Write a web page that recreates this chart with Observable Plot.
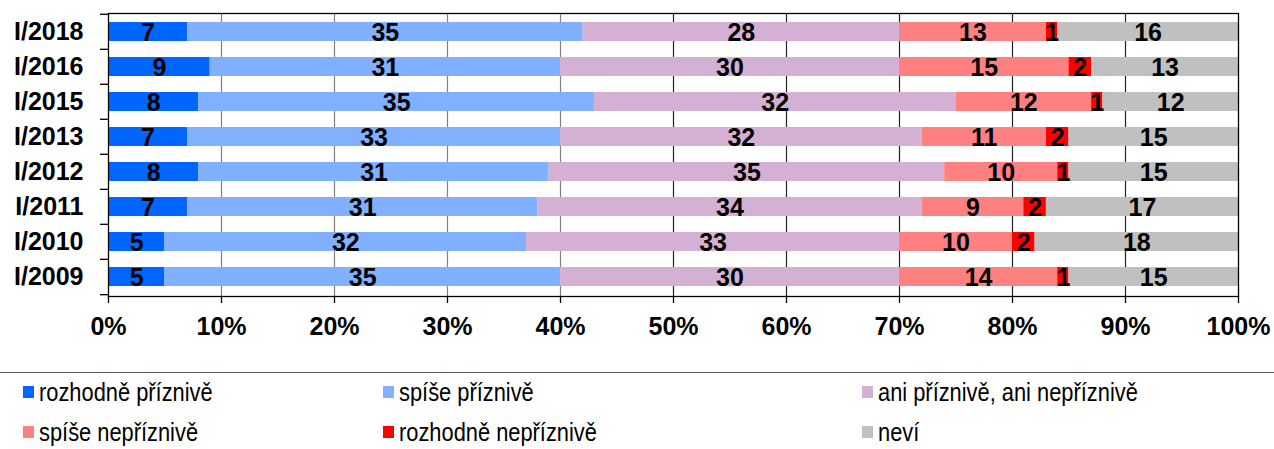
<!DOCTYPE html>
<html>
<head>
<meta charset="utf-8">
<script src="https://cdn.jsdelivr.net/npm/d3@7"></script>
<script src="https://cdn.jsdelivr.net/npm/@observablehq/plot@0.6"></script>
<style>
  html, body { margin: 0; padding: 0; background: #fff; }
  #chart svg { display: block; }
  #legend {
    position: relative; width: 1274px; height: 75px;
    margin-top: 7px; border-top: 1.5px solid #555;
    font-family: 'Liberation Sans', Arial, sans-serif; font-size: 26px; color: #000;
  }
  .item { position: absolute; display: flex; align-items: center; height: 30px; white-space: nowrap; }
  .sw { width: 11px; height: 12px; margin-right: 5px; flex: none; }
  .lbl { display: inline-block; transform: scaleX(0.84); transform-origin: left center; }
</style>
</head>
<body>
<div id="chart"></div>
<div id="legend"></div>
<script>
const years = ["I/2018", "I/2016", "I/2015", "I/2013", "I/2012", "I/2011", "I/2010", "I/2009"];
const categories = ["rozhodně příznivě", "spíše příznivě", "ani příznivě, ani nepříznivě", "spíše nepříznivě", "rozhodně nepříznivě", "neví"];
const colors = ["#0066ff", "#80b0ff", "#d4b0d4", "#ff8080", "#ff0000", "#c0c0c0"];

const rozhodnePriznive   = [7, 9, 8, 7, 8, 7, 5, 5];
const spisePriznive      = [35, 31, 35, 33, 31, 31, 32, 35];
const aniAni             = [28, 30, 32, 32, 35, 34, 33, 30];
const spiseNepriznive    = [13, 15, 12, 11, 10, 9, 10, 14];
const rozhodneNepriznive = [1, 2, 1, 2, 1, 2, 2, 1];
const nevi               = [16, 13, 12, 15, 15, 17, 18, 15];

const xTicks = [0, 10, 20, 30, 40, 50, 60, 70, 80, 90, 100];
const xTickLabels = ["0%", "10%", "20%", "30%", "40%", "50%", "60%", "70%", "80%", "90%", "100%"];

const series = [rozhodnePriznive, spisePriznive, aniAni, spiseNepriznive, rozhodneNepriznive, nevi];
const table = [];
years.forEach((y, i) => {
  categories.forEach((c, j) => table.push({year: y, category: c, value: series[j][i]}));
});

const W = 1274, H = 365, mT = 13, mB = 69, mL = 108, mR = 36;
const half = (H - mT - mB) / years.length / 2;
const font = "'Liberation Sans', Arial, sans-serif";

const chart = Plot.plot({
  width: W, height: H,
  marginTop: mT, marginBottom: mB, marginLeft: mL, marginRight: mR,
  style: {fontFamily: font, fontSize: "25px", fontWeight: "bold", color: "#000", background: "#fff"},
  x: {domain: [0, 100], axis: null, label: null},
  y: {domain: years, paddingInner: 0.45, paddingOuter: 0.225, axis: null, label: null},
  color: {domain: categories, range: colors},
  marks: [
    Plot.ruleX(xTicks.filter(d => d > 0 && d < 50), {stroke: "#808080", strokeWidth: 1.2}),
    Plot.ruleX(xTicks.filter(d => d >= 50 && d < 100), {stroke: "#222", strokeWidth: 1.2}),
    Plot.barX(table, Plot.stackX({x: "value", y: "year", fill: "category", z: "category"})),
    Plot.text(table, Plot.stackX({x: "value", y: "year", z: "category", text: d => String(d.value), fill: "#000", fontSize: 25, fontWeight: "bold", dy: 1})),
    Plot.frame({stroke: "#000", strokeWidth: 1.3}),
    Plot.axisX({ticks: xTicks, tickSize: 7, tickPadding: 14, label: null, tickFormat: d => xTickLabels[xTicks.indexOf(d)], fontSize: 25, fontWeight: "bold", strokeWidth: 1.3}),
    Plot.axisY({tickSize: 0, tickPadding: 25, label: null, fontSize: 25, fontWeight: "bold"}),
    Plot.axisY({tickSize: 8, label: null, tickFormat: () => "", dy: -half, strokeWidth: 1.3}),
    Plot.axisY({ticks: [years[years.length - 1]], label: null, tickSize: 8, tickFormat: () => "", dy: half, strokeWidth: 1.3})
  ]
});
document.getElementById("chart").appendChild(chart);

const legend = document.getElementById("legend");
const colX = [23, 383, 862];
const rowY = [4, 44];
categories.forEach((c, i) => {
  const it = document.createElement("div");
  it.className = "item";
  it.style.left = colX[i % 3] + "px";
  it.style.top = rowY[Math.floor(i / 3)] + "px";
  const sw = document.createElement("span");
  sw.className = "sw";
  sw.style.background = colors[i];
  const lb = document.createElement("span");
  lb.className = "lbl";
  lb.textContent = c;
  it.appendChild(sw);
  it.appendChild(lb);
  legend.appendChild(it);
});
</script>
</body>
</html>
